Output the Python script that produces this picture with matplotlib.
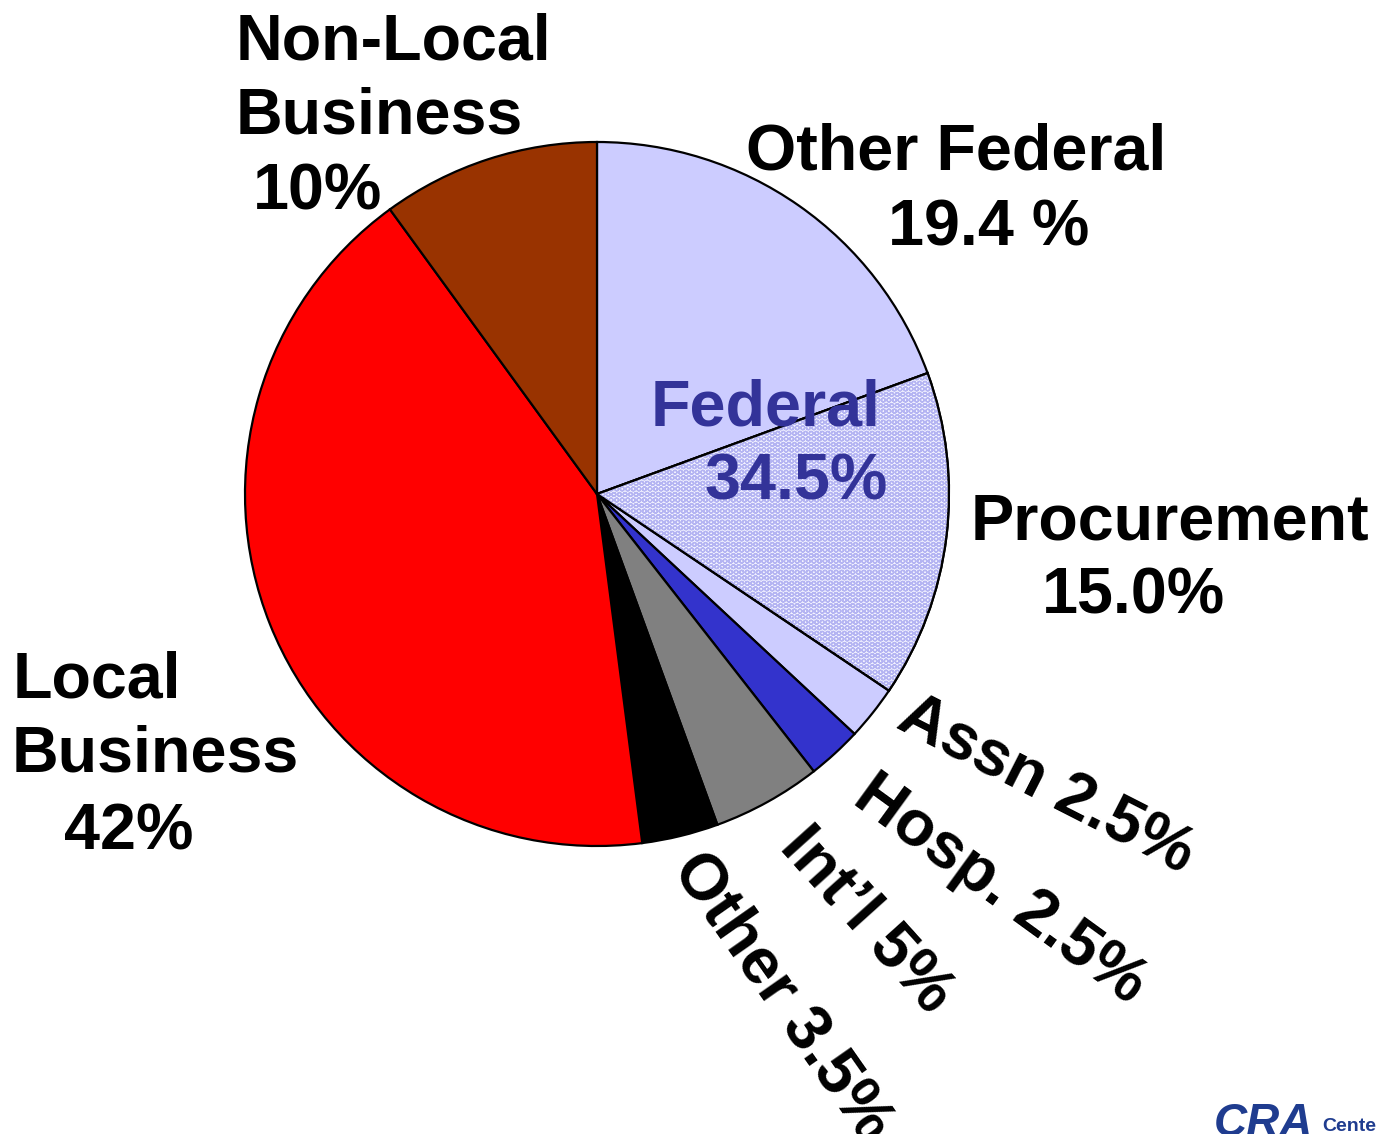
import matplotlib.pyplot as plt
from matplotlib.patches import Wedge

# 資料
labels = ["Other Federal", "Procurement", "Assn", "Hosp.", "Int'l", "Other",
          "Local Business", "Non-Local Business"]
shares = [19.4, 15.0, 2.5, 2.5, 5.0, 3.5, 42.0, 10.0]
colors = ["#ccccff", "#f2f2ff", "#ccccff", "#3333cc", "#808080", "#000000",
          "#ff0000", "#993300"]

W, H = 1378, 1134
FONT = "Liberation Sans"
FS = 46.5


def Y(y):
    # 以像素座標 (由上往下) 換算成資料座標
    return H - y


plt.rcParams["font.family"] = [FONT, "DejaVu Sans"]
plt.rcParams["hatch.linewidth"] = 1.0

fig = plt.figure(figsize=(W / 100, H / 100), dpi=100)
ax = fig.add_axes([0, 0, 1, 1])

wedges, _ = ax.pie(
    shares,
    colors=colors,
    startangle=90,
    counterclock=False,
    center=(597, Y(494)),
    radius=352,
    wedgeprops=dict(edgecolor="black", linewidth=1.6),
)

# Procurement 網點紋理
pw = wedges[1]
ax.add_patch(Wedge(pw.center, pw.r, pw.theta1, pw.theta2, facecolor="none",
                   edgecolor="#b4b4f2", hatch="OOO", linewidth=0, zorder=1.5))
ax.add_patch(Wedge(pw.center, pw.r, pw.theta1, pw.theta2, facecolor="none",
                   edgecolor="black", linewidth=1.6, zorder=1.6))

ax.set_xlim(0, W)
ax.set_ylim(0, H)
ax.set_aspect("equal")
ax.axis("off")

txt = dict(fontsize=FS, fontweight="bold", ha="center", va="baseline")

# 水平標籤 (x 中心, 基線 y)
ax.text(393, Y(60), "Non-Local", **txt)
ax.text(379, Y(133), "Business", **txt)
ax.text(318, Y(210), "10%", **txt)

ax.text(956, Y(170), "Other Federal", **txt)
ax.text(989, Y(245), "19.4 %", **txt)

ax.text(766, Y(425), "Federal", color="#333399", **txt)
ax.text(796, Y(500), "34.5%", color="#333399", **txt)

ax.text(1170, Y(540), "Procurement", **txt)
ax.text(1133, Y(613), "15.0%", **txt)

ax.text(97, Y(698), "Local", **txt)
ax.text(155, Y(772), "Business", **txt)
ax.text(129, Y(850), "42%", **txt)

# 斜向標籤
rot = dict(fontsize=FS, fontweight="bold", ha="center", va="center",
           rotation_mode="anchor")
ax.text(1046, Y(786), "Assn 2.5%", rotation=-27, **rot)
ax.text(1000, Y(890), "Hosp. 2.5%", rotation=-36, **rot)
ax.text(867, Y(920), "Int\u2019l 5%", rotation=-48, **rot)
ax.text(782, Y(997), "Other 3.5%", rotation=-55, **rot)

# 右下角標誌
ax.text(1214, Y(1136), "CRA", fontsize=33, fontweight="heavy", style="italic",
        color="#1f3c8f", ha="left", va="baseline")
ax.text(1322, Y(1131), "Cente", fontsize=14, fontweight="bold",
        color="#1f3c8f", ha="left", va="baseline")

fig.savefig("out.png", dpi=100)
plt.close(fig)
